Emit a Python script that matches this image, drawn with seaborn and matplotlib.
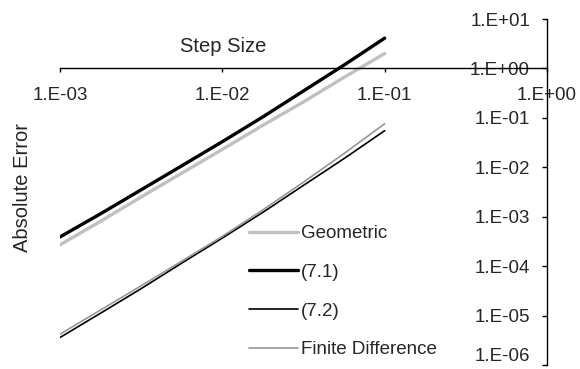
import numpy as np
import pandas as pd
import matplotlib
matplotlib.use("Agg")
import matplotlib.pyplot as plt
import matplotlib.ticker as mticker
import seaborn as sns

# Step sizes and absolute errors for each method
step_size = [0.001, 0.00178, 0.00316, 0.00562, 0.01, 0.0178, 0.0316, 0.0562, 0.1]
geometric = [2.7e-4, 8.1e-4, 2.5e-3, 7.6e-3, 2.3e-2, 7.1e-2, 0.21, 0.66, 2.0]
eq_7_1 = [3.9e-4, 1.15e-3, 3.5e-3, 1.07e-2, 3.3e-2, 0.105, 0.35, 1.17, 4.1]
eq_7_2 = [3.6e-6, 1.12e-5, 3.5e-5, 1.15e-4, 3.7e-4, 1.23e-3, 4.3e-3, 1.5e-2, 5.5e-2]
finite_diff = [4.2e-6, 1.3e-5, 4.0e-5, 1.26e-4, 4.0e-4, 1.38e-3, 5.0e-3, 1.9e-2, 7.6e-2]

series_names = ["Geometric", "(7.1)", "(7.2)", "Finite Difference"]
series_values = [geometric, eq_7_1, eq_7_2, finite_diff]
series_colors = ["#c0c0c0", "#000000", "#000000", "#969696"]
series_widths = [2.4, 2.4, 1.2, 1.2]

sns.set_style("white")
plt.rcParams["font.family"] = ["Liberation Sans", "DejaVu Sans"]
FS = 13.5
TITLE_FS = 14.5

fig = plt.figure(figsize=(5.8, 3.69), dpi=100)
ax = fig.add_axes([60 / 580, 4 / 369, 487 / 580, 346 / 369])

for name, vals, col, lw in zip(series_names, series_values, series_colors, series_widths):
    df = pd.DataFrame({"h": step_size, "err": vals})
    sns.lineplot(data=df, x="h", y="err", ax=ax, color=col, linewidth=lw,
                 label=name, estimator=None, sort=False)

ax.set_xscale("log")
ax.set_yscale("log")
ax.set_xlim(1e-3, 1)
ax.set_ylim(1e-6, 10)

# Axes cross at x = 1 and y = 1
ax.spines["left"].set_position(("data", 1))
ax.spines["bottom"].set_position(("data", 1))
ax.spines["top"].set_visible(False)
ax.spines["right"].set_visible(False)
for sp in ("left", "bottom"):
    ax.spines[sp].set_color("black")
    ax.spines[sp].set_linewidth(1.0)

ax.xaxis.set_major_locator(mticker.LogLocator(base=10, numticks=20))
ax.yaxis.set_major_locator(mticker.LogLocator(base=10, numticks=20))
ax.xaxis.set_minor_locator(mticker.NullLocator())
ax.yaxis.set_minor_locator(mticker.NullLocator())


def sci_label(v, pos):
    e = int(round(np.log10(v)))
    return f"1.E{e:+03d}"


ax.xaxis.set_major_formatter(mticker.FuncFormatter(sci_label))
ax.yaxis.set_major_formatter(mticker.FuncFormatter(sci_label))
ax.tick_params(axis="y", which="major", direction="out", length=3.6, width=1,
               color="black", labelsize=FS, pad=8.6, left=True)
ax.tick_params(axis="x", which="major", direction="out", length=3.2, width=1,
               color="black", labelsize=FS, pad=10, bottom=True)
ax.set_xlabel("")
ax.set_ylabel("")

fig.canvas.draw()
# Lowest value label sits above its tick, as at the bottom edge of the axis
for tick in ax.yaxis.get_major_ticks():
    if np.isclose(tick.get_loc(), 1e-6):
        tick.label1.set_va("bottom")

fig.text(223 / 580, 1 - 46 / 369, "Step Size", ha="center", va="center", fontsize=TITLE_FS)
fig.text(23 / 580, 1 - 187 / 369, "Absolute Error", ha="center", va="center",
         rotation=90, fontsize=TITLE_FS)

ax.legend(loc="upper left", bbox_to_anchor=(249 / 580, 1 - 225 / 369),
          bbox_transform=fig.transFigure, frameon=False, fontsize=FS,
          handlelength=2.6, handletextpad=0.15, labelspacing=1.15,
          borderpad=0, borderaxespad=0)

fig.savefig("out.png", dpi=100)
